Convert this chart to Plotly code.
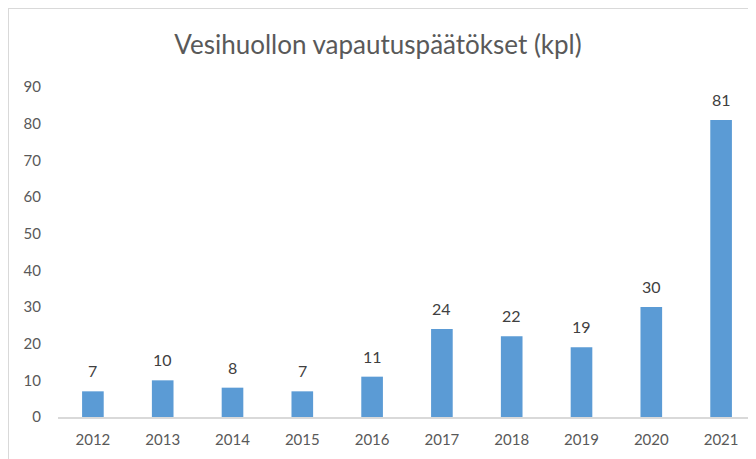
import plotly.graph_objects as go

years = ["2012", "2013", "2014", "2015", "2016", "2017", "2018", "2019", "2020", "2021"]
values = [7, 10, 8, 7, 11, 24, 22, 19, 30, 81]
y_ticks = [0, 10, 20, 30, 40, 50, 60, 70, 80, 90]

# page body has an 8px margin, so the figure is sized to fit the window
W, H = 748, 451
ml, mr, mt, mb = 50, 0, 79, 42
pw, ph = W - ml - mr, H - mt - mb
FONT = "Lato, Noto Sans, sans-serif"

fig = go.Figure(go.Bar(
    x=years, y=values,
    marker=dict(color="#5B9BD5", line=dict(width=0)),
    cliponaxis=False,
))

# data labels: category axes take the category index for annotation positions
for i, v in enumerate(values):
    fig.add_annotation(x=i, y=v, xref="x", yref="y", text=str(v), showarrow=False,
                       yanchor="bottom", yshift=9,
                       font=dict(family=FONT, size=16, color="#404040"))

fig.update_layout(
    width=W, height=H,
    margin=dict(l=ml, r=mr, t=mt, b=mb),
    paper_bgcolor="white", plot_bgcolor="white",
    bargap=0.69,
    showlegend=False,
    title=dict(text="Vesihuollon vapautuspäätökset (kpl)", x=370 / W, xanchor="center",
               y=1 - 37 / H, yanchor="middle",
               font=dict(family=FONT, size=26, color="#595959")),
    xaxis=dict(type="category", range=[-0.5, len(years) - 0.5], showgrid=False,
               showline=True, linecolor="#D9D9D9", linewidth=1.5,
               ticks="", tickfont=dict(family=FONT, size=15, color="#595959"),
               ticklabelstandoff=8),
    yaxis=dict(range=[0, 90], tickvals=y_ticks, showgrid=False, zeroline=False, showline=False,
               tickfont=dict(family=FONT, size=15, color="#595959"),
               ticklabelstandoff=16),
)

# light frame (top & left edges)
x0 = (0 - ml) / pw
y1 = 1 + mt / ph
fig.add_shape(type="line", xref="paper", yref="paper", x0=x0, x1=1 + mr / pw, y0=y1, y1=y1,
              line=dict(color="#D9D9D9", width=2))
fig.add_shape(type="line", xref="paper", yref="paper", x0=x0, x1=x0, y0=-mb / ph, y1=y1,
              line=dict(color="#D9D9D9", width=2))

fig.write_html("out.html")
